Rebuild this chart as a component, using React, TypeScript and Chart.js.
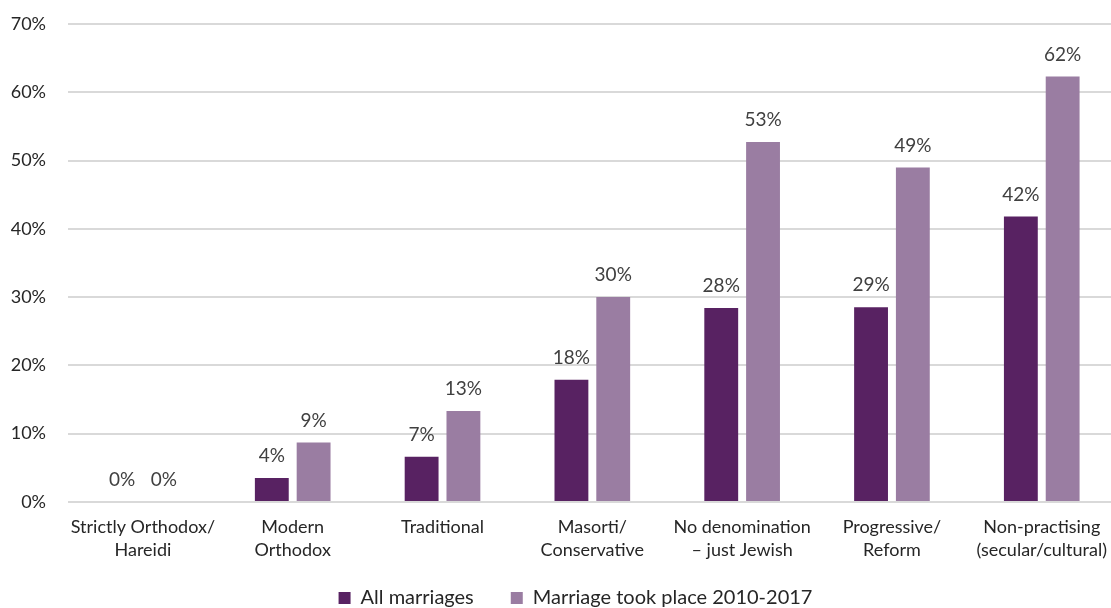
import React, { useEffect, useRef } from "react";
import { Chart, registerables } from "chart.js";

Chart.register(...registerables);

const categories: string[][] = [
  ["Strictly Orthodox/", "Hareidi"],
  ["Modern", "Orthodox"],
  ["Traditional"],
  ["Masorti/", "Conservative"],
  ["No denomination", "– just Jewish"],
  ["Progressive/", "Reform"],
  ["Non-practising", "(secular/cultural)"],
];
const allMarriages: number[] = [0, 3.5, 6.6, 17.9, 28.4, 28.5, 41.8];
const recentMarriages: number[] = [0, 8.7, 13.3, 30.0, 52.7, 49.0, 62.3];
const seriesNames: string[] = ["All marriages", "Marriage took place 2010-2017"];
const yTicks: number[] = [0, 10, 20, 30, 40, 50, 60, 70];

const FONT = "Lato, 'Open Sans', sans-serif";
const LEGEND_SIZE = 20;
const LEGEND_PAD = 37;

const dataLabelPlugin = {
  id: "dataLabels",
  afterDatasetsDraw(chart: any) {
    const ctx = chart.ctx;
    ctx.save();
    ctx.font = `19px ${FONT}`;
    ctx.fillStyle = "#404040";
    ctx.textAlign = "center";
    ctx.textBaseline = "middle";
    chart.data.datasets.forEach((ds: any, di: number) => {
      const meta = chart.getDatasetMeta(di);
      meta.data.forEach((bar: any, i: number) => {
        const v = ds.data[i];
        ctx.fillText(`${Math.round(v)}%`, bar.x, bar.y - 22);
      });
    });
    ctx.restore();
  },
};

const legendPlace = {
  id: "legendPlace",
  afterLayout(chart: any) {
    const l = chart.legend;
    if (l) {
      const h = l.bottom - l.top;
      const top = 598 - LEGEND_PAD - LEGEND_SIZE / 2;
      l.top = top;
      l.bottom = top + h;
      l.left += 15;
      l.right += 15;
    }
  },
};

export default function App() {
  const ref = useRef<HTMLCanvasElement | null>(null);
  useEffect(() => {
    if (!ref.current) return;
    const chart = new Chart(ref.current, {
      type: "bar",
      data: {
        labels: categories as any,
        datasets: [
          {
            label: seriesNames[0],
            data: allMarriages,
            backgroundColor: "#582262",
            categoryPercentage: 0.558,
            barPercentage: 0.81,
          },
          {
            label: seriesNames[1],
            data: recentMarriages,
            backgroundColor: "#9A7DA2",
            categoryPercentage: 0.558,
            barPercentage: 0.81,
          },
        ],
      },
      options: {
        animation: false,
        responsive: false,
        maintainAspectRatio: false,
        layout: { padding: { top: 24, bottom: -35, left: 0, right: 0 } },
        plugins: {
          tooltip: { enabled: false },
          legend: {
            position: "bottom",
            labels: {
              boxWidth: 12,
              boxHeight: 12,
              padding: LEGEND_PAD,
              color: "#262626",
              font: { family: FONT, size: LEGEND_SIZE },
            },
          },
        },
        scales: {
          x: {
            grid: { display: false, drawTicks: false },
            border: { display: false },
            ticks: {
              color: "#262626",
              font: { family: FONT, size: 18, lineHeight: 1.28 },
              padding: 14,
              maxRotation: 0,
              autoSkip: false,
            },
          },
          y: {
            min: 0,
            max: 70,
            afterBuildTicks: (s: any) => {
              s.ticks = yTicks.map((v) => ({ value: v }));
            },
            grid: {
              color: "#d9d9d9",
              lineWidth: 2,
              drawTicks: true,
              tickLength: 22,
              tickColor: "rgba(0,0,0,0)",
            },
            border: { display: false },
            ticks: {
              color: "#262626",
              font: { family: FONT, size: 18 },
              padding: 0,
              callback: (v: any) => `${v}%`,
            },
            afterFit: (s: any) => {
              s.width = 68;
            },
          },
        },
      },
      plugins: [dataLabelPlugin, legendPlace],
    });
    return () => chart.destroy();
  }, []);
  return (
    <div
      style={{
        position: "fixed",
        left: 0,
        top: 0,
        width: 1111,
        height: 608,
        overflow: "hidden",
        background: "#fff",
      }}
    >
      <canvas ref={ref} width={1121} height={608} style={{ width: 1121, height: 608, display: "block" }} />
    </div>
  );
}
